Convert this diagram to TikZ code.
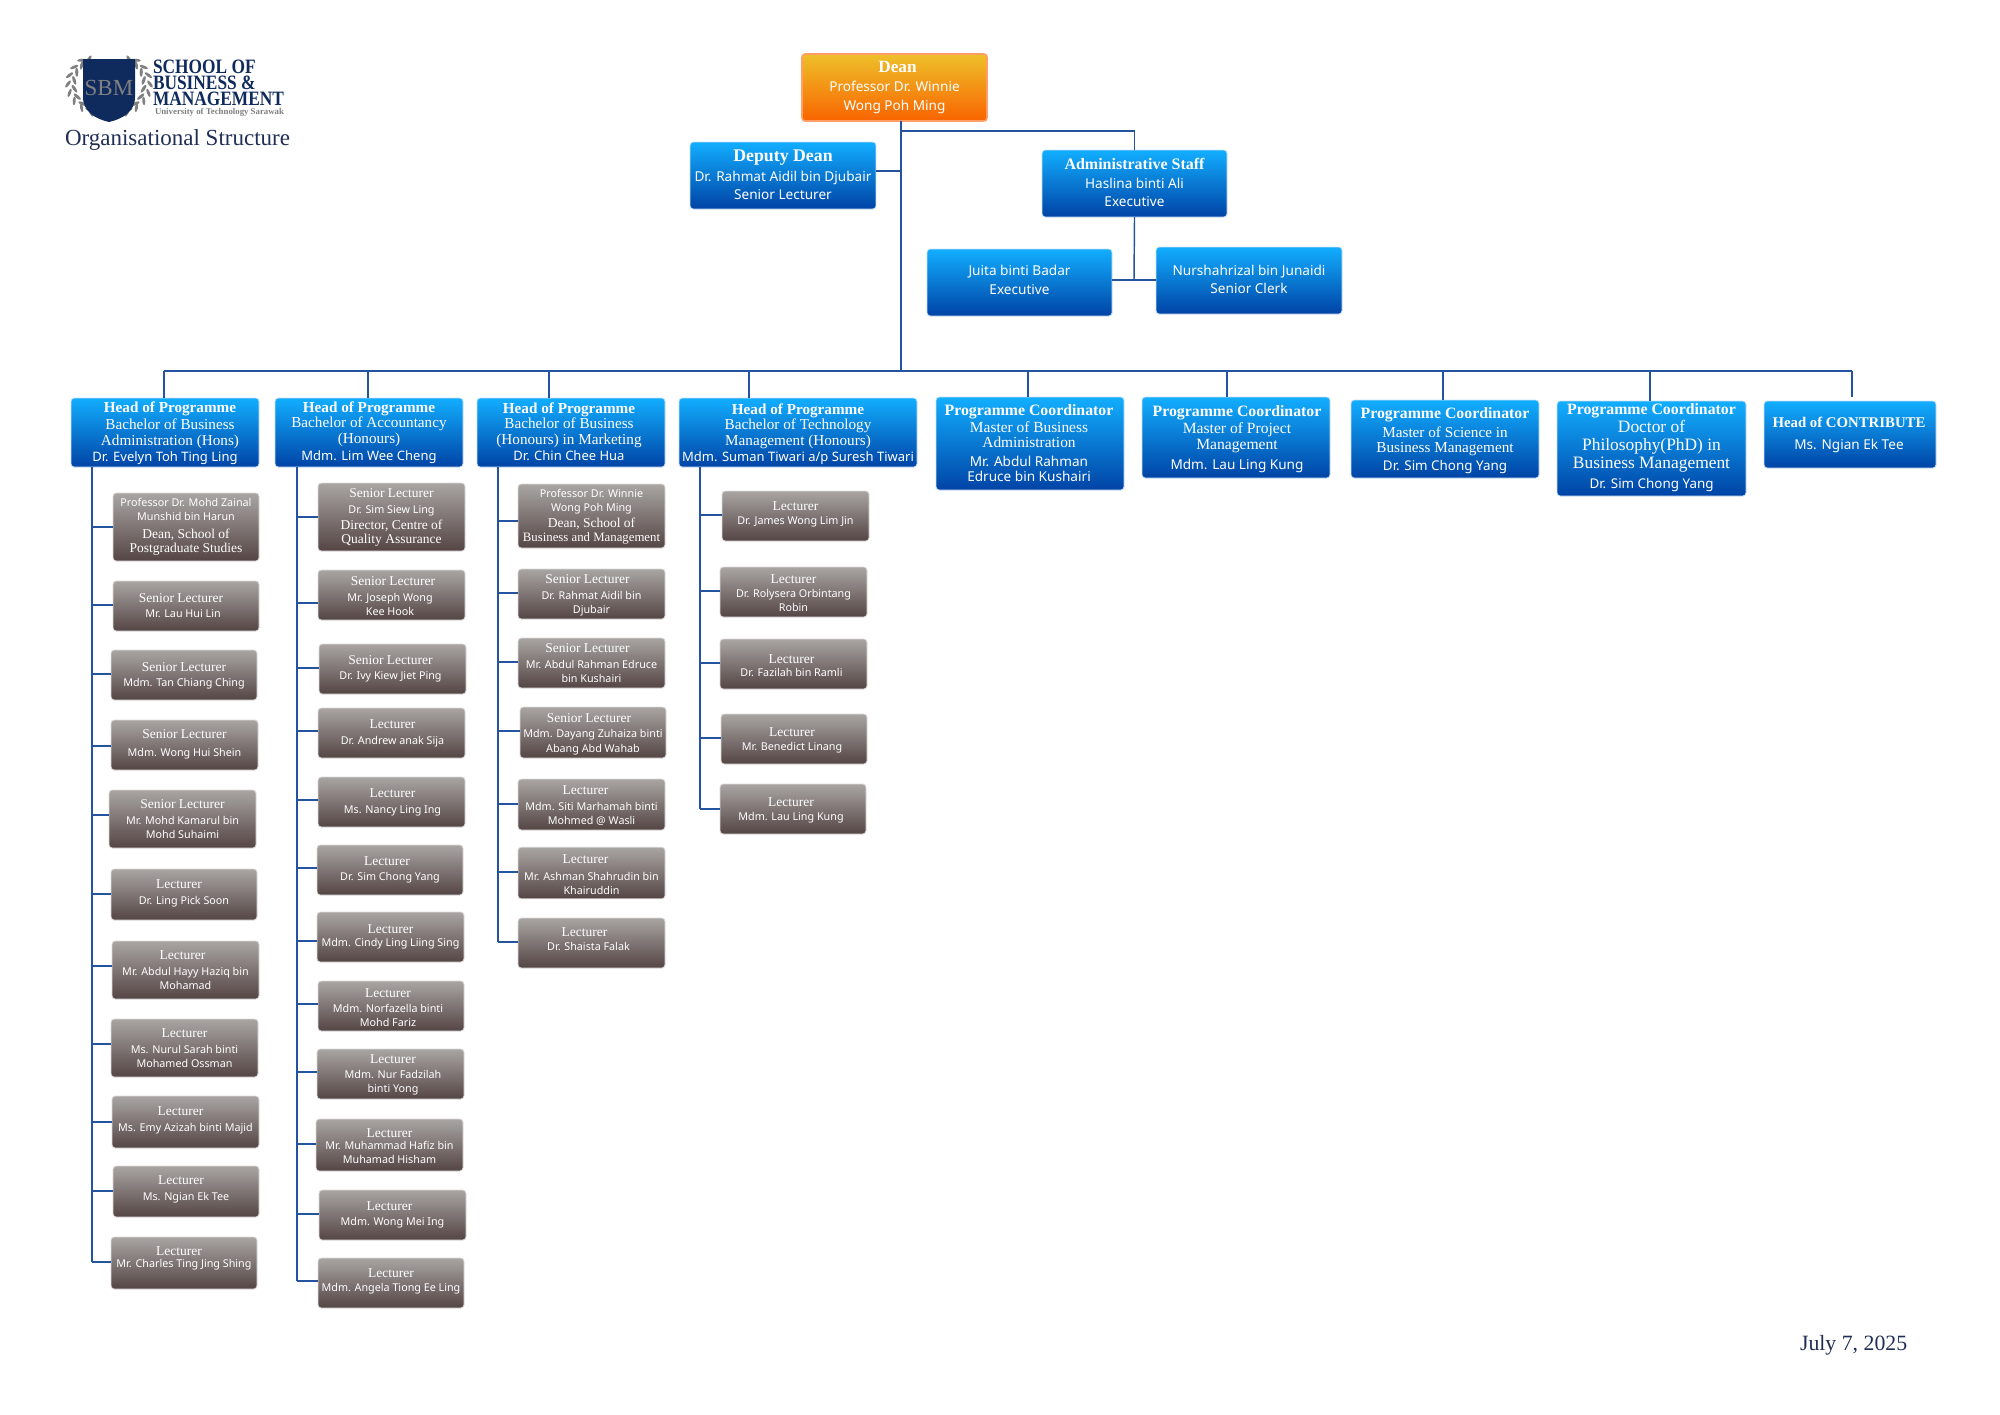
\documentclass[tikz,border=0pt]{standalone}
\usepackage{graphicx}
\usepackage{fontspec}
\setmainfont{Liberation Serif}
\newfontfamily\nmfont{Noto Sans}
\usetikzlibrary{calc}
\definecolor{bluetop}{HTML}{12AEFF}
\definecolor{bluebot}{HTML}{0043A5}
\definecolor{bluerim}{HTML}{C9DFF5}
\definecolor{orgtop}{HTML}{EEC02A}
\definecolor{orgbot}{HTML}{F96400}
\definecolor{orgrim}{HTML}{FF9F66}
\definecolor{grytop}{HTML}{A9A5A3}
\definecolor{grybot}{HTML}{544544}
\definecolor{gryrim}{HTML}{DDDADA}
\definecolor{conn}{HTML}{24549F}
\definecolor{navy}{HTML}{0F2A5C}
\definecolor{inktext}{HTML}{222F55}
\definecolor{leaf}{HTML}{808080}
% text faces
\newcommand\bH[2][7.6]{{\fontsize{#1}{8}\selectfont\bfseries #2}}
\newcommand\bS[2][7.6]{{\fontsize{#1}{8}\selectfont #2}}
\newcommand\bN[2][6.8]{{\nmfont\fontsize{#1}{8}\selectfont #2}}
\newcommand\hN[1]{\bN[6.5]{#1}}
\newcommand\gS[2][6.75]{{\fontsize{#1}{8}\selectfont #2}}
\newcommand\gN[1]{{\nmfont\fontsize{5.38}{8}\selectfont #1}}
\newcommand\stkoff{2.6pt}
\newcommand\stk[3]{\vbox{\kern\dimexpr #2pt+\stkoff\relax\hbox{\kern #1pt\begin{tabular}{@{}c@{}}#3\end{tabular}}}}
\tikzset{
  x=0.5pt,y=-0.5pt,
  anybox/.style={rounded corners=1.6pt,inner sep=0pt,outer sep=0pt,line width=0.4pt,text=white,shade},
  bluebox/.style={anybox,draw=bluerim,top color=bluetop,bottom color=bluebot,font=\fontsize{7}{8}\selectfont},
  deanbox/.style={anybox,draw=orgrim,line width=0.8pt,top color=orgtop,bottom color=orgbot,font=\fontsize{7}{8}\selectfont},
  greybox/.style={anybox,draw=gryrim,top color=grytop,bottom color=grybot,font=\fontsize{6}{7.5}\selectfont},
  link/.style={draw=conn,line width=0.72pt},
  plain/.style={inner sep=0pt,outer sep=0pt,anchor=west},
  leafy/.style={fill=leaf,draw=none}
}
% style, name, x1,y1,x2,y2, dx, dy, text
\newcommand\bx[9]{\node[#1,minimum width={(#5-#3)*0.5pt},minimum height={(#6-#4)*0.5pt}] (#2) at ({(#3+#5)/2},{(#4+#6)/2}) {\stk{#7}{#8}{#9}};}
% staff box with branch to spine: name,x1,y1,x2,y2,dx,dy,branch y,text
\newcommand\st[9]{\bx{greybox}{#1}{#2}{#3}{#4}{#5}{#6}{#7}{#9}\coordinate (#1j) at (spine|-0,#8);\draw[link] (#1j) -- (#1.west|-#1j);}
\begin{document}
\begin{tikzpicture}
\useasboundingbox (0,0) rectangle (2000,1414);
\fill[white] (0,0) rectangle (2000,1414);
% ---- logo ----
\foreach \a in {125,141,157,173,189,205,221,237}{
  \fill[leafy] ({109+35*cos(\a)},{84-30*sin(\a)}) ellipse [x radius=1.6,y radius=4.6,rotate={\a+25}];
  \fill[leafy] ({109-35*cos(\a)},{84-30*sin(\a)}) ellipse [x radius=1.6,y radius=4.6,rotate={-\a-25}];
  \fill[leafy] ({109+41*cos(\a+7)},{84-32*sin(\a+7)}) ellipse [x radius=1.5,y radius=4.4,rotate={\a-30}];
  \fill[leafy] ({109-41*cos(\a+7)},{84-32*sin(\a+7)}) ellipse [x radius=1.5,y radius=4.4,rotate={-\a+30}];
}
\fill[navy] (83,59) -- (135,59) -- (135,97) .. controls (135,112) and (122,119) .. (109,122) .. controls (96,119) and (83,112) .. (83,97) -- cycle;
\node[plain,anchor=center,text=leaf,font=\fontsize{11.5}{12}\selectfont] (logoSBM) at (109,88) {SBM};
\node[plain,text=navy,font=\fontsize{10.2}{11}\selectfont\bfseries] (logoA) at (153,67) {\scalebox{.85}[1]{SCHOOL OF}};
\node[plain,text=navy,font=\fontsize{10.2}{11}\selectfont\bfseries] (logoB) at (153,83) {\scalebox{.85}[1]{BUSINESS \&}};
\node[plain,text=navy,font=\fontsize{10.2}{11}\selectfont\bfseries] (logoC) at (153,99) {\scalebox{.85}[1]{MANAGEMENT}};
\node[plain,text=leaf,font=\fontsize{4.4}{5}\selectfont\bfseries] (logoD) at (155,112) {University of Technology Sarawak};
\node[plain,text=inktext,font=\fontsize{11.5}{12}\selectfont] (orgtitle) at (65,140) {Organisational Structure};
\node[plain,text=inktext,font=\fontsize{10.9}{12}\selectfont] (datestamp) at (1800,1345) {July 7, 2025};
% ---- top ----
\bx{deanbox}{dean}{802}{54}{987}{121}{0}{-1.5}{\kern3pt\bH[8.6]{Dean}\\[1.5pt]\bN{Professor Dr. Winnie}\\[1.5pt]\bN{Wong Poh Ming}}
\bx{bluebox}{deputy}{690}{142}{876}{209}{0}{-1.3}{\bH[8.9]{Deputy Dean}\\[2pt]\bN{Dr. Rahmat Aidil bin Djubair}\\[1pt]\bN{Senior Lecturer}}
\bx{bluebox}{admin}{1042}{150}{1227}{217}{0}{-1}{\bH[8]{Administrative Staff}\\[1.5pt]\bN{Haslina binti Ali}\\[1pt]\bN{Executive}}
\bx{bluebox}{juita}{927}{249}{1112}{316}{0}{-3}{\bN{Juita binti Badar}\\[1.5pt]\bN{Executive}}
\bx{bluebox}{nurs}{1156}{247}{1342}{314}{0}{-1.5}{\bN{Nurshahrizal bin Junaidi}\\[1pt]\bN{Senior Clerk}}
% ---- heads ----
\bx{bluebox}{h1}{71}{398}{259}{467}{0}{-1.5}{\kern5pt\bH{Head of Programme}\\[.5pt]\kern5pt\bS{Bachelor of Business}\\\kern5pt\bS{Administration (Hons)}\\\hN{Dr. Evelyn Toh Ting Ling}}
\bx{bluebox}{h2}{275}{398}{463}{467}{0}{-2}{\bH{Head of Programme}\\[-.5pt]\bS{Bachelor of Accountancy}\\\bS{(Honours)}\\[.5pt]\hN{Mdm. Lim Wee Cheng}}
\bx{bluebox}{h3}{477}{398}{665}{467}{-2}{-1.5}{\bH{Head of Programme}\\[-.5pt]\bS{Bachelor of Business}\\\bS{(Honours) in Marketing}\\\hN{Dr. Chin Chee Hua}}
\bx{bluebox}{h4}{679}{398}{917}{467}{0}{0}{\bH{Head of Programme}\\[-.5pt]\bS{Bachelor of Technology}\\\bS{Management (Honours)}\\\hN{Mdm. Suman Tiwari a/p Suresh Tiwari}}
\bx{bluebox}{h5}{936}{397}{1124}{490}{-1}{-1}{\bH[7.9]{Programme Coordinator}\\[.5pt]\bS[7.7]{Master of Business}\\[-.5pt]\bS[7.7]{Administration}\\[1.5pt]\bN{Mr. Abdul Rahman}\\[-.5pt]\bN{Edruce bin Kushairi}}
\bx{bluebox}{h6}{1142}{397}{1330}{478}{1}{0}{\bH[7.9]{Programme Coordinator}\\[.5pt]\bS[7.8]{Master of Project}\\\bS[7.8]{Management}\\[2pt]\bN{Mdm. Lau Ling Kung}}
\bx{bluebox}{h7}{1351}{400}{1539}{478}{0}{0}{\bH[7.9]{Programme Coordinator}\\[1.5pt]\bS{Master of Science in}\\[-.5pt]\bS{Business Management}\\[1pt]\bN[6.7]{Dr. Sim Chong Yang}}
\bx{bluebox}{h8}{1557}{401}{1746}{496}{0}{-2.5}{\bH[7.9]{Programme Coordinator}\\[.5pt]\bS[8.7]{Doctor of}\\[.5pt]\bS[8.7]{Philosophy(PhD) in}\\[1pt]\bS[8.7]{Business Management}\\[2pt]\bN[6.7]{Dr. Sim Chong Yang}}
\bx{bluebox}{h9}{1764}{401}{1936}{468}{-1}{-2}{\bH[7.4]{Head of CONTRIBUTE}\\[3pt]\bN{Ms. Ngian Ek Tee}}
\renewcommand\stkoff{1.8pt}
% ---- column 1 ----
\coordinate (spine) at (92,467);
\st{a1}{113}{493}{259}{561}{0}{-2}{527}{\gN{Professor Dr. Mohd Zainal}\\[-.5pt]\gN{Munshid bin Harun}\\[1.5pt]\gS{Dean, School of}\\[-.5pt]\gS{Postgraduate Studies}}
\st{a2}{113}{581}{259}{631}{-3}{-1}{605}{\kern-2pt\gS{Senior Lecturer}\\\gN{Mr. Lau Hui Lin}}
\st{a3}{111}{650}{257}{700}{0}{-1}{674}{\gS{Senior Lecturer}\\\gN{Mdm. Tan Chiang Ching}}
\st{a4}{111}{720}{258}{770}{0}{-2}{746}{\gS{Senior Lecturer}\\[1.5pt]\gN{Mdm. Wong Hui Shein}}
\st{a5}{109}{790}{256}{848}{0}{0}{815}{\gS{Senior Lecturer}\\[.5pt]\gN{Mr. Mohd Kamarul bin}\\[-.5pt]\gN{Mohd Suhaimi}}
\st{a6}{111}{869}{257}{920}{0}{-3}{894}{\kern-5pt\gS{Lecturer}\\[.5pt]\gN{Dr. Ling Pick Soon}}
\st{a7}{112}{941}{259}{999}{0}{0}{966}{\kern-3pt\gS{Lecturer}\\[.5pt]\gN{Mr. Abdul Hayy Haziq bin}\\[-.5pt]\gN{Mohamad}}
\st{a8}{111}{1019}{258}{1077}{0}{0}{1044}{\gS{Lecturer}\\[.5pt]\gN{Ms. Nurul Sarah binti}\\[-.5pt]\gN{Mohamed Ossman}}
\st{a9}{112}{1096}{259}{1148}{0}{-3}{1122}{\kern-5pt\gS{Lecturer}\\[.5pt]\gN{Ms. Emy Azizah binti Majid}}
\st{a10}{113}{1166}{259}{1217}{0}{-3.5}{1191}{\kern-5pt\gS{Lecturer}\\[.5pt]\gN{Ms. Ngian Ek Tee}}
\st{a11}{111}{1237}{257}{1289}{0}{-6}{1262}{\kern-5pt\gS{Lecturer}\\[-1.5pt]\gN{Mr. Charles Ting Jing Shing}}
\draw[link] (h1.south-|spine) -- (a11j);
% ---- column 2 ----
\coordinate (spine) at (297,467);
\st{b1}{318}{483}{465}{551}{0}{-1}{517}{\gS{Senior Lecturer}\\[.5pt]\gN{Dr. Sim Siew Ling}\\[.5pt]\gS{Director, Centre of}\\[-.5pt]\gS{Quality Assurance}}
\st{b2}{318}{570}{465}{620}{-1.5}{.5}{603}{\kern3pt\gS{Senior Lecturer}\\[.5pt]\gN{Mr. Joseph Wong}\\[-.5pt]\gN{Kee Hook}}
\st{b3}{319}{644}{466}{694}{-2}{-2}{668}{\gS{Senior Lecturer}\\\gN{Dr. Ivy Kiew Jiet Ping}}
\st{b4}{318}{708}{465}{758}{1}{-1}{731}{\gS{Lecturer}\\[.5pt]\gN{Dr. Andrew anak Sija}}
\st{b5}{318}{777}{465}{827}{1}{-1}{800}{\gS{Lecturer}\\[.5pt]\gN{Ms. Nancy Ling Ing}}
\st{b6}{317}{845}{463}{895}{0}{-2}{868}{\kern-3pt\gS{Lecturer}\\\gN{Dr. Sim Chong Yang}}
\st{b7}{317}{912}{464}{962}{0}{-2}{941}{\gS{Lecturer}\\[-1pt]\gN{Mdm. Cindy Ling Liing Sing}}
\st{b8}{318}{981}{464}{1031}{-3}{1}{1004}{\gS{Lecturer}\\\gN{Mdm. Norfazella binti}\\[-.5pt]\gN{Mohd Fariz}}
\st{b9}{317}{1049}{464}{1099}{2.5}{-1}{1072}{\gS{Lecturer}\\\gN{Mdm. Nur Fadzilah}\\[-.5pt]\gN{binti Yong}}
\st{b10}{316}{1119}{463}{1171}{0}{1}{1144}{\gS{Lecturer}\\[-1.5pt]\gN{Mr. Muhammad Hafiz bin}\\[-.5pt]\gN{Muhamad Hisham}}
\st{b11}{319}{1190}{466}{1240}{0}{-2}{1214}{\kern-3pt\gS{Lecturer}\\\gN{Mdm. Wong Mei Ing}}
\st{b12}{318}{1258}{464}{1308}{0}{-3}{1281}{\gS{Lecturer}\\[-.5pt]\gN{Mdm. Angela Tiong Ee Ling}}
\draw[link] (h2.south-|spine) -- (b12j);
% ---- column 3 ----
\coordinate (spine) at (498,467);
\st{c1}{518}{484}{665}{548}{0}{-1}{521}{\gN{Professor Dr. Winnie}\\[-.5pt]\gN{Wong Poh Ming}\\[.5pt]\gS{Dean, School of}\\[-.5pt]\gS[6.4]{Business and Management}}
\st{c2}{518}{569}{665}{619}{0}{0}{593}{\kern-4pt\gS{Senior Lecturer}\\[.5pt]\gN{Dr. Rahmat Aidil bin}\\[-.5pt]\gN{Djubair}}
\st{c3}{518}{638}{665}{688}{0}{0}{662}{\kern-4pt\gS{Senior Lecturer}\\[.5pt]\gN{Mr. Abdul Rahman Edruce}\\[-.5pt]\gN{bin Kushairi}}
\st{c4}{520}{707}{666}{758}{0}{0}{731}{\kern-4pt\gS{Senior Lecturer}\\\gN{Mdm. Dayang Zuhaiza binti}\\\gN{Abang Abd Wahab}}
\st{c5}{518}{779}{665}{830}{0}{0}{804}{\kern-6pt\gS{Lecturer}\\[.5pt]\gN{Mdm. Siti Marhamah binti}\\[-.5pt]\gN{Mohmed @ Wasli}}
\st{c6}{518}{848}{665}{898}{0}{1}{872}{\kern-6pt\gS{Lecturer}\\[1pt]\gN{Mr. Ashman Shahrudin bin}\\[-.5pt]\gN{Khairuddin}}
\st{c7}{518}{918}{665}{968}{-3}{-4}{942}{\kern-4pt\gS{Lecturer}\\[-.5pt]\gN{Dr. Shaista Falak}}
\draw[link] (h3.south-|spine) -- (c7j);
% ---- column 4 ----
\coordinate (spine) at (700,467);
\st{d1}{722}{491}{869}{541}{0}{-3}{515}{\gS{Lecturer}\\[-.5pt]\gN{Dr. James Wong Lim Jin}}
\st{d2}{720}{567}{867}{617}{0}{1}{591}{\gS{Lecturer}\\[-.5pt]\gN{Dr. Rolysera Orbintang}\\[-.5pt]\gN{Robin}}
\st{d3}{720}{639}{867}{689}{-2}{1}{663}{\gS{Lecturer}\\[-1pt]\gN{Dr. Fazilah bin Ramli}}
\st{d4}{721}{714}{867}{764}{-2}{0}{738}{\gS{Lecturer}\\[-.5pt]\gN{Mr. Benedict Linang}}
\st{d5}{720}{784}{866}{834}{-2}{0}{809}{\gS{Lecturer}\\[-.5pt]\gN{Mdm. Lau Ling Kung}}
\draw[link] (h4.south-|spine) -- (d5j);
% ---- upper connectors ----
\coordinate (trunk) at (901,131);
\coordinate (deputyj) at (901,171);
\coordinate (busj) at (901,371);
\coordinate (adminj) at (1134,280);
\draw[link] (dean.south-|trunk) -- (busj);
\draw[link] (trunk) -| (admin.north);
\draw[link] (deputy.east|-deputyj) -- (deputyj);
\draw[link] (admin.south) -- (adminj);
\draw[link] (juita.east|-adminj) -- (nurs.west|-adminj);
\coordinate (busl) at (164,371);
\coordinate (busr) at (1852,371);
\draw[link] (busl) -- (busr);
\foreach \n/\xx in {h1/164,h2/368,h3/549,h4/749,h5/1028,h6/1227,h7/1443,h8/1650}{
  \coordinate (\n j) at (\xx,371);
  \draw[link] (\n j) -- (\n.north-|\n j);
}
\draw[link,shorten >=2pt] (busr) -- (h9.north-|busr);
\end{tikzpicture}
\end{document}
